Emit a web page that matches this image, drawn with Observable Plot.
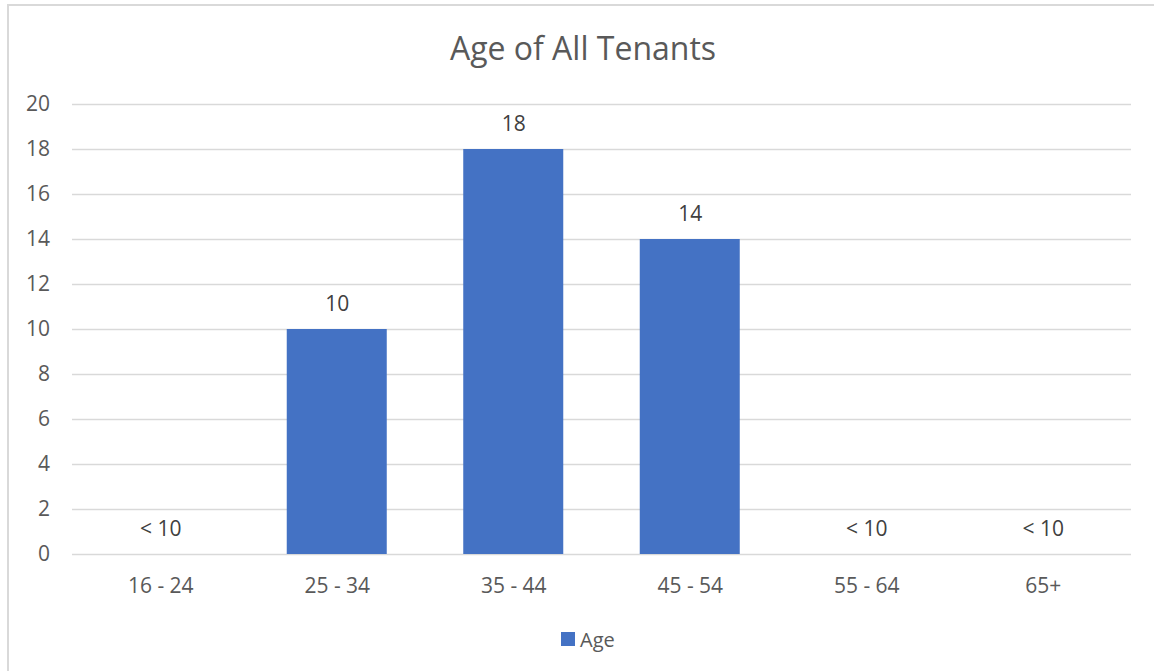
<!DOCTYPE html>
<html>
<head>
<meta charset="utf-8">
<script src="https://cdn.jsdelivr.net/npm/d3@7"></script>
<script src="https://cdn.jsdelivr.net/npm/@observablehq/plot@0.6"></script>
<style>
  html, body { margin: 0; padding: 0; background: #ffffff; }
  #wrap { position: relative; width: 1154px; height: 671px; overflow: hidden; font-family: "Open Sans", sans-serif; }
  #title { height: 80px; box-sizing: border-box; padding-top: 31.6px; text-align: center; font-size: 32px; line-height: 32px; color: #595959; padding-left: 12px; }
  #legend { height: 51px; box-sizing: border-box; padding-top: 2.5px; padding-left: 561px; }
  #border { position: absolute; left: 7px; top: 4px; width: 1160px; height: 700px; border: 2px solid #d9d9d9; pointer-events: none; }
  svg { display: block; }
</style>
</head>
<body>
<div id="wrap">
  <div id="title">Age of All Tenants</div>
  <div id="chart"></div>
  <div id="legend"></div>
  <div id="border"></div>
</div>
<script>
const categories = ["16 - 24", "25 - 34", "35 - 44", "45 - 54", "55 - 64", "65+"];
const values = [0, 10, 18, 14, 0, 0];
const valueLabels = ["< 10", "10", "18", "14", "< 10", "< 10"];
const yTicks = [0, 2, 4, 6, 8, 10, 12, 14, 16, 18, 20];
const seriesName = "Age";
const barColor = "#4472C4";

const data = categories.map((c, i) => ({age: c, value: values[i], label: valueLabels[i]}));

const chart = Plot.plot({
  width: 1154,
  height: 540,
  marginTop: 24,
  marginBottom: 66,
  marginLeft: 72,
  marginRight: 23,
  style: {fontFamily: "Open Sans", fontSize: "21px", color: "#595959", background: "transparent"},
  x: {domain: categories, paddingInner: 0.4334, paddingOuter: 0.2167, round: false, label: null},
  y: {domain: [0, 20], label: null},
  marks: [
    Plot.gridY(yTicks, {stroke: "#d9d9d9", strokeOpacity: 1, strokeWidth: 1.3}),
    Plot.barY(data, {x: "age", y: "value", fill: barColor}),
    Plot.text(data, {x: "age", y: "value", text: "label", dy: -25, fill: "#404040", fontSize: 21}),
    Plot.axisY(yTicks, {tickSize: 0, tickPadding: 22.5, fill: "#595959", fontSize: 21, label: null}),
    Plot.axisX({tickSize: 0, tickPadding: 24, fill: "#595959", fontSize: 21, label: null})
  ]
});
document.getElementById("chart").appendChild(chart);

const legend = Plot.legend({
  color: {type: "categorical", domain: [seriesName], range: [barColor]},
  swatchSize: 14,
  style: {fontFamily: "Open Sans", fontSize: "20px", color: "#595959"}
});
legend.querySelectorAll("svg").forEach(s => { s.style.marginRight = "5px"; });
document.getElementById("legend").appendChild(legend);
</script>
</body>
</html>
